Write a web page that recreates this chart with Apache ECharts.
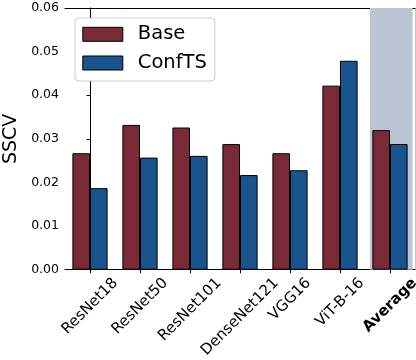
<!DOCTYPE html>
<html>
<head>
<meta charset="utf-8">
<script src="https://cdn.jsdelivr.net/npm/echarts@6/dist/echarts.min.js"></script>
<style>
html,body{margin:0;padding:0;background:#fff;}
#c{width:416px;height:360px;}
</style>
</head>
<body>
<div id="c"></div>
<script>
const categories = ['ResNet18', 'ResNet50', 'ResNet101', 'DenseNet121', 'VGG16', 'ViT-B-16', 'Average'];
const baseValues = [0.0267, 0.0332, 0.0326, 0.0288, 0.0267, 0.0422, 0.0320];
const conftsValues = [0.0187, 0.0257, 0.0261, 0.0217, 0.0228, 0.0479, 0.0288];
const yTicks = [0, 0.01, 0.02, 0.03, 0.04, 0.05, 0.06];
const seriesNames = ['Base', 'ConfTS'];
const highlightRange = [5.6, 6.45];

const FONT = '"DejaVu Sans", sans-serif';
const xfs = 15;
const ctx = document.createElement('canvas').getContext('2d');
function textWidth(t, bold) {
  ctx.font = (bold ? 'bold ' : '') + xfs + 'px "DejaVu Sans"';
  return ctx.measureText(t).width;
}
const baseMargin = 8;
const rich = {};
categories.forEach((c, i) => {
  const bold = c === 'Average';
  const L = textWidth(c, bold);
  const D = 7 + 0.354 * (L + 0.75 * xfs);
  const p = Math.max(0, (D - baseMargin) / 0.7071);
  rich['l' + i] = {
    fontSize: xfs, fontFamily: FONT, color: '#000',
    fontWeight: bold ? 'bold' : 'normal',
    padding: [p, p, 0, 0]
  };
});

const chart = echarts.init(document.getElementById('c'), null, {renderer: 'canvas'});
chart.setOption({
  animation: false,
  backgroundColor: '#fff',
  grid: {left: 65, right: 1, top: 8, bottom: 90.3, containLabel: false, outerBoundsMode: 'none'},
  legend: {
    data: seriesNames,
    orient: 'vertical',
    left: 75, top: 18,
    padding: [6.3, 8, 8, 7.3],
    itemWidth: 40, itemHeight: 14, itemGap: 8.7,
    backgroundColor: '#fff',
    borderColor: '#cccccc', borderWidth: 1, borderRadius: 4,
    icon: 'rect',
    itemStyle: {borderColor: '#000', borderWidth: 1},
    textStyle: {fontSize: 19.5, fontFamily: FONT, color: '#000', lineHeight: 20, padding: [0, 0, 0, 10]}
  },
  xAxis: [{
    type: 'category',
    data: categories,
    boundaryGap: true,
    axisLine: {show: true, lineStyle: {color: '#000', width: 1}},
    axisTick: {show: true, alignWithLabel: true, length: 3.5, inside: false, lineStyle: {color: '#000', width: 1}},
    axisLabel: {
      interval: 0, rotate: 45, margin: baseMargin,
      align: 'center', verticalAlign: 'middle',
      fontSize: xfs, fontFamily: FONT, color: '#000',
      formatter: (v, i) => '{l' + i + '|' + v + '}',
      rich: rich
    },
    splitLine: {show: false}
  }, {
    type: 'value',
    position: 'top',
    min: -0.5, max: 6.5,
    axisLine: {show: true, onZero: false, lineStyle: {color: '#000', width: 1}},
    axisTick: {show: false},
    axisLabel: {show: false},
    splitLine: {show: false}
  }],
  yAxis: [{
    type: 'value',
    min: yTicks[0], max: yTicks[yTicks.length - 1], interval: 0.01,
    name: 'SSCV',
    nameLocation: 'middle',
    nameRotate: 90,
    nameGap: 41,
    nameTextStyle: {fontSize: 19, fontFamily: FONT, color: '#000'},
    axisLine: {show: true, lineStyle: {color: '#000', width: 1}},
    axisTick: {show: true, length: 3.5, inside: false, lineStyle: {color: '#000', width: 1}},
    axisLabel: {margin: 6, fontSize: 12.5, fontFamily: FONT, color: '#000', formatter: v => v.toFixed(2)},
    splitLine: {show: false}
  }, {
    type: 'value',
    position: 'right',
    min: yTicks[0], max: yTicks[yTicks.length - 1],
    axisLine: {show: true, lineStyle: {color: '#c4c4c4', width: 1}},
    axisTick: {show: false},
    axisLabel: {show: false},
    splitLine: {show: false}
  }],
  series: [{
    type: 'line',
    xAxisIndex: 1, yAxisIndex: 0,
    data: [],
    silent: true,
    z: 1,
    markArea: {
      silent: true,
      itemStyle: {color: '#bcc3d2'},
      data: [[{xAxis: highlightRange[0]}, {xAxis: highlightRange[1]}]]
    }
  }, {
    name: seriesNames[0],
    type: 'bar',
    data: baseValues,
    barWidth: 17.6,
    barGap: '0%',
    z: 3,
    itemStyle: {color: '#7a2936', borderColor: '#000', borderWidth: 1}
  }, {
    name: seriesNames[1],
    type: 'bar',
    data: conftsValues,
    barWidth: 17.6,
    barGap: '0%',
    z: 3,
    itemStyle: {color: '#19548f', borderColor: '#000', borderWidth: 1}
  }]
});
</script>
</body>
</html>
